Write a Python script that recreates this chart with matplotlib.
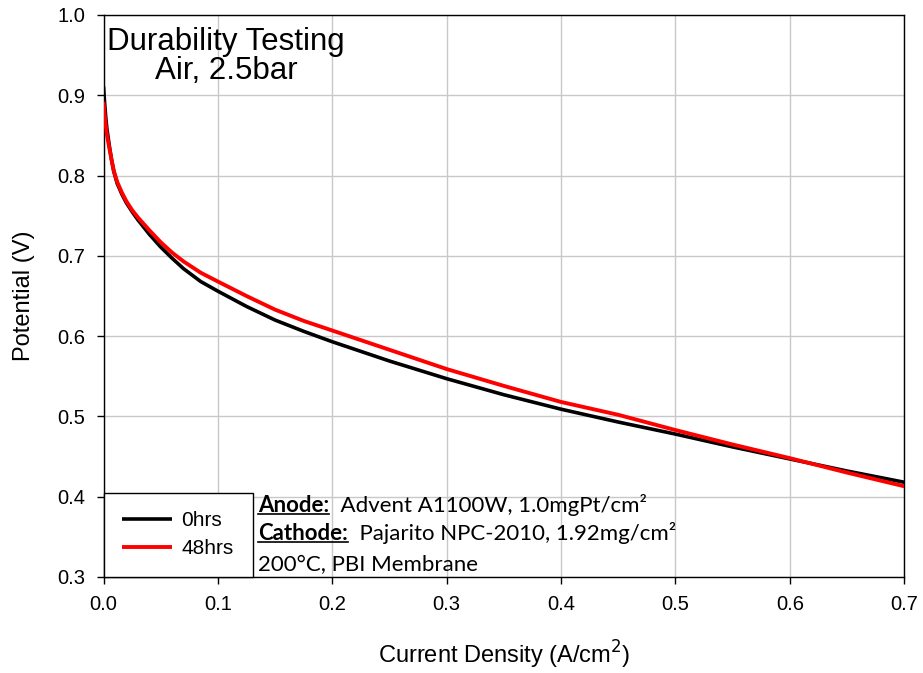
import numpy as np
import matplotlib
matplotlib.use("Agg")
import matplotlib.pyplot as plt
from matplotlib.lines import Line2D

plt.rcParams['font.family'] = ['Liberation Sans', 'DejaVu Sans']

# current density (A/cm2) and potential (V)
current = [0, 0.001, 0.002, 0.003, 0.005, 0.007, 0.009, 0.012, 0.016, 0.020,
           0.025, 0.030, 0.035, 0.040, 0.050, 0.060, 0.070, 0.085, 0.100,
           0.125, 0.150, 0.175, 0.200, 0.250, 0.300, 0.350, 0.400, 0.450,
           0.500, 0.550, 0.600, 0.650, 0.700]
v_0hrs = [0.911, 0.890, 0.872, 0.858, 0.838, 0.820, 0.805, 0.790, 0.777, 0.766,
          0.755, 0.745, 0.736, 0.727, 0.711, 0.697, 0.684, 0.668, 0.656,
          0.637, 0.620, 0.606, 0.593, 0.569, 0.547, 0.527, 0.509, 0.493,
          0.478, 0.462, 0.447, 0.432, 0.418]
v_48hrs = [0.892, 0.876, 0.862, 0.851, 0.835, 0.820, 0.806, 0.792, 0.779, 0.768,
           0.757, 0.748, 0.740, 0.732, 0.717, 0.704, 0.693, 0.679, 0.668,
           0.650, 0.633, 0.619, 0.607, 0.583, 0.559, 0.538, 0.518, 0.502,
           0.483, 0.465, 0.448, 0.430, 0.413]
series_labels = ['0hrs', '48hrs']

xticks = np.arange(0, 0.71, 0.1)
yticks = np.arange(0.3, 1.01, 0.1)

W, H = 923, 673
fig = plt.figure(figsize=(W / 100, H / 100), dpi=100)
ax = fig.add_axes([103.5 / W, 1 - 577 / H, (904.3 - 103.5) / W, (577 - 15) / H])

ax.plot(current, v_0hrs, color='black', lw=2.6, label=series_labels[0],
        solid_capstyle='butt', zorder=3)
ax.plot(current, v_48hrs, color='#ff0000', lw=2.8, label=series_labels[1],
        solid_capstyle='butt', zorder=4)

ax.set_xlim(0, 0.7)
ax.set_ylim(0.3, 1.0)
ax.set_xticks(xticks)
ax.set_yticks(yticks)
ax.set_xticklabels([f'{t:.1f}' for t in xticks])
ax.set_yticklabels([f'{t:.1f}' for t in yticks])
ax.grid(True, color='#c8c8c8', lw=1.0)
ax.set_axisbelow(True)
for s in ax.spines.values():
    s.set_color('black')
    s.set_linewidth(1.0)
ax.tick_params(direction='out', length=5, width=1.0, labelsize=14.5, pad=8)

ax.set_xlabel('Current Density (A/cm$^2$)', fontsize=17, labelpad=18)
ax.set_ylabel('Potential (V)', fontsize=17, labelpad=16)

ax.text(0.153, 0.978, 'Durability Testing\nAir, 2.5bar', transform=ax.transAxes,
        ha='center', va='top', fontsize=22.5, linespacing=0.93)

leg = ax.legend(loc='lower left', bbox_to_anchor=(0, 0), borderaxespad=0,
                fontsize=15, fancybox=False, framealpha=1, edgecolor='black',
                handlelength=2.4, handletextpad=0.45, labelspacing=0.42,
                borderpad=0.9)
leg.get_frame().set_linewidth(1.0)

# annotation block with bold, underlined headings
note_font = ['Lato', 'DejaVu Sans']
note_size = 16
rows = [('Anode:', '  Advent A1100W, 1.0mgPt/cm²', 511.7),
        ('Cathode:', '  Pajarito NPC-2010, 1.92mg/cm²', 540.0),
        (None, '200°C, PBI Membrane', 570.7)]
fig.canvas.draw()
renderer = fig.canvas.get_renderer()
x0 = 258.3
for head, body, base in rows:
    yf = 1 - base / H
    x = x0
    if head:
        t = fig.text(x / W, yf, head, family=note_font, fontsize=note_size,
                     fontweight='bold', va='baseline', ha='left')
        bb = t.get_window_extent(renderer)
        fig.add_artist(Line2D([bb.x0 / W, bb.x1 / W], [yf - 2.2 / H, yf - 2.2 / H],
                              color='black', lw=1.2, transform=fig.transFigure))
        x = bb.x1
    fig.text(x / W, yf, body, family=note_font, fontsize=note_size,
             va='baseline', ha='left')

fig.savefig('out.png', dpi=100)
